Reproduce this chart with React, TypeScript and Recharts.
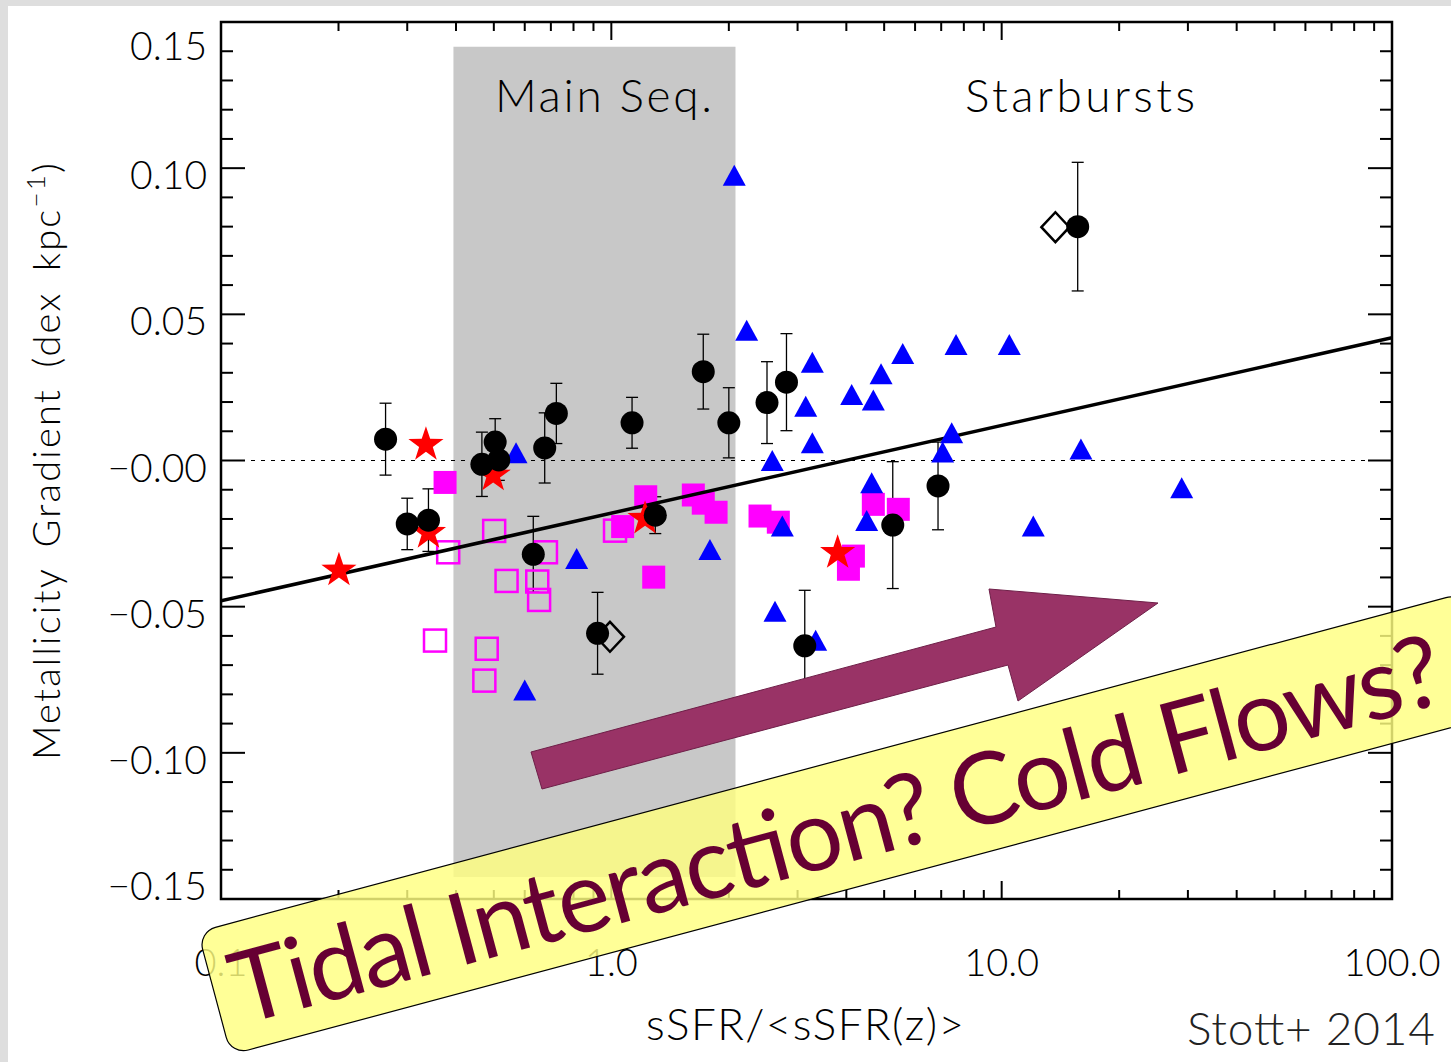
import React from 'react';
import { ScatterChart, Scatter, XAxis, YAxis, ErrorBar, ReferenceArea, ReferenceLine } from 'recharts';

// Stott+ 2014: metallicity gradient vs. normalised specific star formation rate

// black filled circles (with 1-sigma error bars)
const circleX = [0.264, 0.30, 0.34, 0.466, 0.504, 0.515, 0.631, 0.675, 0.723, 0.922, 1.13, 1.296, 1.72, 2.0, 2.505, 2.81, 3.13, 5.26, 6.87, 15.66];
const circleY = [0.0073, -0.0217, -0.0204, -0.0013, 0.0063, 0.0002, -0.0321, 0.0043, 0.0161, -0.0591, 0.0129, -0.0187, 0.0304, 0.0129, 0.0198, 0.0268, -0.0634, -0.0221, -0.0087, 0.080];
const circleErr = [0.0123, 0.0088, 0.0107, 0.011, 0.008, 0.007, 0.013, 0.012, 0.0103, 0.014, 0.0087, 0.0063, 0.0128, 0.012, 0.014, 0.0166, 0.019, 0.0217, 0.015, 0.022];

// open diamonds
const diamondX = [0.992, 13.73];
const diamondY = [-0.0603, 0.0798];

// red stars
const starX = [0.2005, 0.335, 0.34, 0.498, 1.22, 3.80];
const starY = [-0.0369, 0.0061, -0.024, -0.0044, -0.0192, -0.0309];

// filled magenta squares
const fsqX = [0.375, 1.069, 1.225, 1.284, 1.622, 1.72, 1.855, 2.404, 2.678, 4.05, 4.17, 4.69, 5.435];
const fsqY = [-0.0075, -0.0226, -0.0124, -0.0399, -0.0118, -0.0146, -0.0177, -0.019, -0.0211, -0.0372, -0.0327, -0.015, -0.0167];

// open magenta squares
const osqX = [0.3534, 0.382, 0.4728, 0.4794, 0.501, 0.539, 0.646, 0.653, 0.68, 1.022];
const osqY = [-0.0616, -0.0314, -0.0753, -0.0644, -0.0241, -0.0412, -0.0414, -0.0477, -0.0314, -0.024];

// blue triangles
const triX = [0.570, 0.600, 0.815, 1.789, 2.065, 2.222, 2.584, 2.626, 2.742, 3.148, 3.273, 3.273, 3.338, 4.128, 4.51, 4.645, 4.69, 4.909, 5.578, 7.06, 7.447, 7.64, 10.46, 12.05, 15.96, 28.92];
const triY = [0.0025, -0.0787, -0.0337, -0.0306, 0.0974, 0.0444, -0.0002, -0.0517, -0.0226, 0.0184, 0.0334, 0.0059, -0.0617, 0.0224, -0.0207, -0.0078, 0.0205, 0.0295, 0.0364, 0.0027, 0.0093, 0.0395, 0.0395, -0.0226, 0.0038, -0.0095];

// best fit line end points
const fitX = [0.1, 100];
const fitY = [-0.048, 0.042];

// main sequence band
const bandX = [0.394, 2.08];
const bandY = [-0.1425, 0.1415];

const xMajorTicks = [0.1, 1, 10, 100];
const xTickLabels = ['0.1', '1.0', '10.0', '100.0'];
const yMajorTicks = [-0.15, -0.1, -0.05, 0, 0.05, 0.1, 0.15];
const yTickLabels = ['\u22120.15', '\u22120.10', '\u22120.05', '\u22120.00', '0.05', '0.10', '0.15'];

const xTicks: number[] = [];
[0.1, 1, 10].forEach((d) => {
  for (let m = 1; m < 10; m++) xTicks.push(Math.round(d * m * 1000) / 1000);
});
xTicks.push(100);
const yTicks: number[] = [];
for (let i = -15; i <= 15; i++) yTicks.push(i / 100);

const W = 1451;
const H = 1062;
const PLOT = { left: 221, top: 22, right: 1392, bottom: 899 };
const tickFont = 'Lato, "DejaVu Sans", sans-serif';

const pts = (xs: number[], ys: number[]) => xs.map((x, i) => ({ x, y: ys[i] }));
const circles = circleX.map((x, i) => ({ x, y: circleY[i], err: circleErr[i] }));

const near = (list: number[], v: number) => list.findIndex((t) => Math.abs(t - v) < 1e-6);

const renderXTick = (props: any) => {
  const { x, payload } = props;
  const idx = near(xMajorTicks, payload.value);
  const len = idx >= 0 ? 18 : 9;
  return (
    <g key={`xt-${payload.value}`}>
      <line x1={x} x2={x} y1={PLOT.bottom} y2={PLOT.bottom - len} stroke="#000" strokeWidth={2} />
      <line x1={x} x2={x} y1={PLOT.top} y2={PLOT.top + len} stroke="#000" strokeWidth={2} />
      {idx >= 0 && (
        <text x={x} y={976} textAnchor="middle" fontFamily={tickFont} fontWeight={300} fontSize={38} fill="#000">
          {xTickLabels[idx]}
        </text>
      )}
    </g>
  );
};

const renderYTick = (props: any) => {
  const { y, payload } = props;
  const idx = near(yMajorTicks, payload.value);
  const len = idx >= 0 ? 24 : 12;
  const ly = Math.min(Math.max(y + 7, 46), 886);
  return (
    <g key={`yt-${payload.value}`}>
      <line x1={PLOT.left} x2={PLOT.left + len} y1={y} y2={y} stroke="#000" strokeWidth={2} />
      <line x1={PLOT.right} x2={PLOT.right - len} y1={y} y2={y} stroke="#000" strokeWidth={2} />
      {idx >= 0 && (
        <text x={207} y={ly} dy="0.36em" textAnchor="end" fontFamily={tickFont} fontWeight={300} fontSize={39} fill="#000">
          {yTickLabels[idx]}
        </text>
      )}
    </g>
  );
};

const Circle = (p: any) => <circle cx={p.cx} cy={p.cy} r={11.5} fill="#000" />;
const Diamond = (p: any) => (
  <path d={`M${p.cx - 14},${p.cy} L${p.cx},${p.cy - 15} L${p.cx + 14},${p.cy} L${p.cx},${p.cy + 15} Z`} fill="none" stroke="#000" strokeWidth={2.5} />
);
const Star = (p: any) => {
  const R = 18.5;
  const r = 7.2;
  const d: string[] = [];
  for (let i = 0; i < 10; i++) {
    const a = (Math.PI / 5) * i - Math.PI / 2;
    const rr = i % 2 === 0 ? R : r;
    d.push(`${p.cx + rr * Math.cos(a)},${p.cy + rr * Math.sin(a) + 2}`);
  }
  return <polygon points={d.join(' ')} fill="#ff0000" />;
};
const FilledSquare = (p: any) => <rect x={p.cx - 11.5} y={p.cy - 11.5} width={23} height={23} fill="#ff00ff" />;
const OpenSquare = (p: any) => (
  <rect x={p.cx - 11} y={p.cy - 11} width={22} height={22} fill="none" stroke="#ff00ff" strokeWidth={2.5} />
);
const Triangle = (p: any) => (
  <path d={`M${p.cx},${p.cy - 11} L${p.cx + 11.5},${p.cy + 10} L${p.cx - 11.5},${p.cy + 10} Z`} fill="#0000ff" />
);
const NoDot = () => <g />;

const arrowPts = '531,752 996,627 989,589 1158,603 1018,701 1008,665 542,789';

const App = () => {
  return (
    <div style={{ position: 'absolute', left: 0, top: 0, width: W, height: H, background: '#dedede', overflow: 'hidden' }}>
      <div style={{ position: 'absolute', left: 8, top: 6, right: 0, bottom: 0, background: '#fff' }} />
      <div style={{ position: 'absolute', left: 0, top: 0 }}>
        <ScatterChart
          width={W}
          height={H}
          margin={{ top: PLOT.top, right: W - PLOT.right, bottom: H - PLOT.bottom - 1, left: PLOT.left - 1 }}
        >
          <XAxis
            dataKey="x"
            type="number"
            scale="log"
            domain={[0.1, 100]}
            allowDataOverflow
            ticks={xTicks}
            interval={0}
            height={1}
            tickSize={0}
            tickMargin={0}
            axisLine={false}
            tickLine={false}
            tick={renderXTick}
          />
          <YAxis
            dataKey="y"
            type="number"
            domain={[-0.15, 0.15]}
            allowDataOverflow
            ticks={yTicks}
            interval={0}
            width={1}
            tickSize={0}
            tickMargin={0}
            axisLine={false}
            tickLine={false}
            tick={renderYTick}
          />
          <ReferenceArea x1={bandX[0]} x2={bandX[1]} y1={bandY[0]} y2={bandY[1]} fill="#c8c8c8" fillOpacity={1} stroke="none" />
          <ReferenceLine y={0} stroke="#000" strokeWidth={1} strokeDasharray="4 6" />
          <Scatter data={pts(osqX, osqY)} shape={OpenSquare} isAnimationActive={false} />
          <Scatter data={pts(fsqX, fsqY)} shape={FilledSquare} isAnimationActive={false} />
          <Scatter data={pts(fitX, fitY)} shape={NoDot} line={{ stroke: '#000', strokeWidth: 3.5 }} isAnimationActive={false} />
          <Scatter data={pts(triX, triY)} shape={Triangle} isAnimationActive={false} />
          <Scatter data={pts(starX, starY)} shape={Star} isAnimationActive={false} />
          <Scatter data={pts(diamondX, diamondY)} shape={Diamond} isAnimationActive={false} />
          <Scatter data={circles} shape={Circle} isAnimationActive={false}>
            <ErrorBar dataKey="err" direction="y" width={6} stroke="#000" strokeWidth={1.3} />
          </Scatter>
          <ReferenceArea x1={0.1} x2={100} y1={-0.15} y2={0.15} fill="none" stroke="#000" strokeWidth={2.5} />
        </ScatterChart>
      </div>
      <svg width={W} height={H} style={{ position: 'absolute', left: 0, top: 0, pointerEvents: 'none' }}>
        <text x={495} y={112} fontFamily={tickFont} fontWeight={300} fontSize={46} textLength={217} fill="#000">
          Main Seq.
        </text>
        <text x={965} y={112} fontFamily={tickFont} fontWeight={300} fontSize={46} textLength={230} fill="#000">
          Starbursts
        </text>
        <text
          transform="translate(60,760) rotate(-90)"
          fontFamily={tickFont}
          fontWeight={300}
          fontSize={38}
          letterSpacing={2.2}
          wordSpacing={8}
          fill="#000"
        >
          Metallicity Gradient (dex kpc
          <tspan fontSize={26} dy={-15}>{'\u22121'}</tspan>
          <tspan dy={15}>)</tspan>
        </text>
        <text x={805} y={1040} textAnchor="middle" fontFamily={tickFont} fontWeight={300} fontSize={44} textLength={318} fill="#000">
          {'sSFR/<sSFR(z)>'}
        </text>
        <text x={1187} y={1045} fontFamily="Lato, sans-serif" fontWeight={300} fontSize={46} textLength={248} fill="#222">
          Stott+ 2014
        </text>
        <polygon points={arrowPts} fill="#993366" stroke="#6e1f48" strokeWidth={1} />
        <g transform="translate(198,932) rotate(-15)">
          <rect x={0} y={0} width={1310} height={127} rx={18} fill="#ffff80" fillOpacity={0.82} stroke="#000" strokeWidth={1.2} />
          <text x={18} y={101} fontFamily="Lato, sans-serif" fontSize={100} textLength={1250} fill="#660033">
            Tidal Interaction? Cold Flows?
          </text>
        </g>
      </svg>
    </div>
  );
};

export default App;
